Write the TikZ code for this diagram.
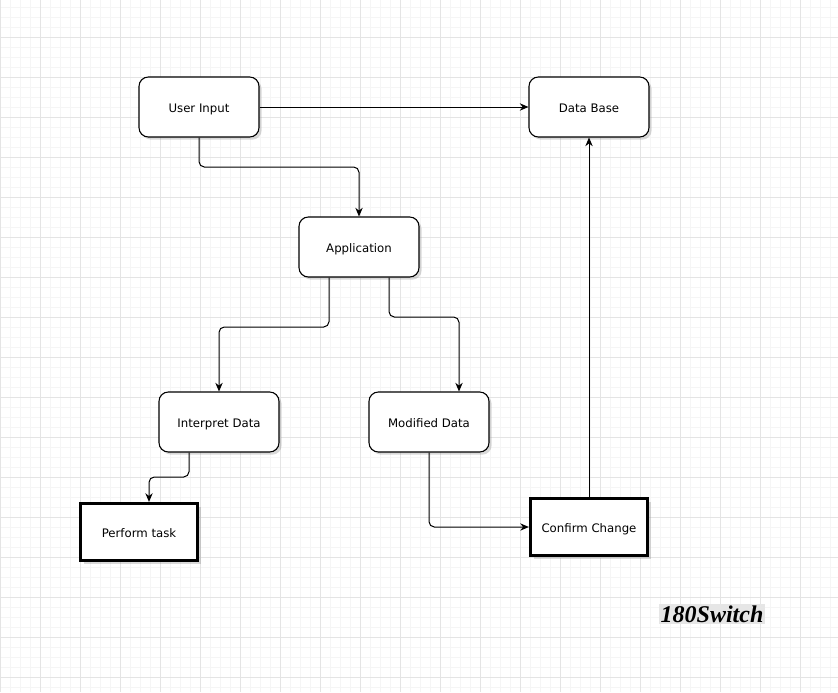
\documentclass[tikz,border=0pt]{standalone}
\usepackage{fontspec}
\setmainfont{DejaVu Sans}
\newfontfamily\logofont{Liberation Serif}
\usetikzlibrary{arrows.meta,shadows}
\definecolor{minorgrid}{HTML}{F5F5F5}
\definecolor{majorgrid}{HTML}{E4E4E4}
\definecolor{logobg}{HTML}{E6E6E6}
\tikzset{
  stepbox/.style={draw,rounded corners=7pt,line width=0.8pt,fill=white,minimum width=90pt,minimum height=45pt,text height=1.65ex,text depth=0.25ex,font=\fontsize{8.8}{10}\selectfont,drop shadow={shadow xshift=2pt,shadow yshift=-2pt,opacity=0.3}},
  endbox/.style={draw,line width=2.2pt,fill=white,minimum width=88pt,minimum height=43pt,text height=1.65ex,text depth=0.25ex,font=\fontsize{8.8}{10}\selectfont,drop shadow={shadow xshift=2.5pt,shadow yshift=-2.5pt,opacity=0.3}},
  flow/.style={-{Stealth[length=6.5pt,width=5.5pt]},line width=0.75pt,rounded corners=4pt}
}
\begin{document}
\begin{tikzpicture}[x=0.75pt,y=-0.75pt]
  \useasboundingbox (0,0) rectangle (838,692);
  % grid
  \foreach \x in {0,10,...,830} \draw[minorgrid,line width=0.6pt] (\x,0) -- (\x,692);
  \foreach \y in {7,17,...,687} \draw[minorgrid,line width=0.6pt] (0,\y) -- (838,\y);
  \foreach \x in {0,40,...,800} \draw[majorgrid,line width=0.6pt] (\x,0) -- (\x,692);
  \foreach \y in {37,77,...,677} \draw[majorgrid,line width=0.6pt] (0,\y) -- (838,\y);
  % boxes
  \node[stepbox] (input) at (199,107) {User Input};
  \node[stepbox] (base) at (589,107) {Data Base};
  \node[stepbox] (app) at (359,247) {Application};
  \node[stepbox] (interpret) at (219,422) {Interpret Data};
  \node[stepbox] (modified) at (429,422) {Modified Data};
  \node[endbox] (task) at (139,532) {Perform task};
  \node[endbox] (confirm) at (589,527) {Confirm Change};
  \node[fill=logobg,inner sep=1pt,font=\logofont\bfseries\itshape\fontsize{18}{20}\selectfont] (logo) at (712,614) {180Switch};
  % connectors
  \draw[flow] (input.east) -- (base.west);
  \draw[flow] (input.south) |- (359,167) -- (app.north);
  \draw[flow] ([xshift=-30*0.75pt]app.south) |- (219,327) -- (interpret.north);
  \draw[flow] ([xshift=30*0.75pt]app.south) |- (459,317) -- ([xshift=30*0.75pt]modified.north);
  \draw[flow] ([xshift=-30*0.75pt]interpret.south) |- (149,477) -- ([xshift=10*0.75pt]task.north);
  \draw[flow] (modified.south) |- (confirm.west);
  \draw[flow] (confirm.north) -- (base.south);
\end{tikzpicture}
\end{document}
